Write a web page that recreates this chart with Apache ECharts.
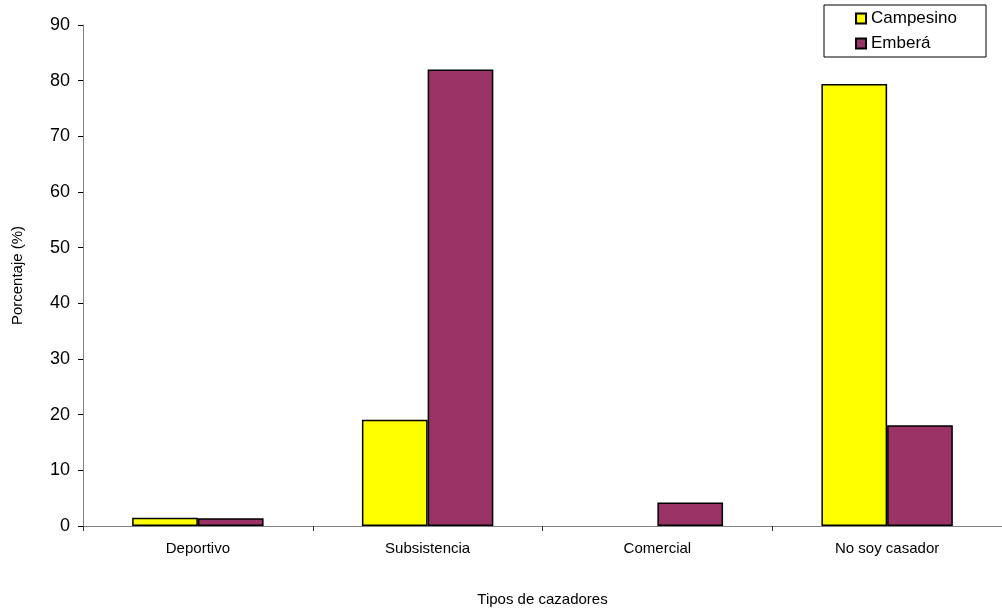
<!DOCTYPE html>
<html><head><meta charset="utf-8">
<script src="https://cdn.jsdelivr.net/npm/echarts@6/dist/echarts.min.js"></script>
<style>html,body{margin:0;padding:0;background:#fff}#c{width:1002px;height:612px}</style>
</head><body><div id="c"></div>
<script>
const categories = ['Deportivo', 'Subsistencia', 'Comercial', 'No soy casador'];
const campesino = [1.5, 19.1, 0, 79.4];
const embera = [1.4, 82.0, 4.2, 18.1];
const yTicks = [0, 10, 20, 30, 40, 50, 60, 70, 80, 90];

const chart = echarts.init(document.getElementById('c'));
const font = 'Liberation Sans, Arial, sans-serif';
const toData = arr => arr.map(v => v === 0 ? { value: v, itemStyle: { borderWidth: 0 } } : v);
chart.setOption({
  animation: false,
  textStyle: { fontFamily: font },
  grid: { left: 83, right: -4, top: 25, bottom: 86, containLabel: false },
  legend: {
    right: 16, top: 5, orient: 'vertical', itemGap: 8,
    padding: [5, 29, 5, 31],
    borderColor: '#000', borderWidth: 1,
    itemWidth: 10, itemHeight: 10, icon: 'rect',
    textStyle: { fontFamily: font, fontSize: 17, color: '#000', padding: [0,0,0,0] },
    data: ['Campesino', 'Emberá']
  },
  xAxis: {
    type: 'category', data: categories,
    name: 'Tipos de cazadores', nameLocation: 'middle', nameGap: 66,
    nameTextStyle: { fontSize: 15, color: '#000', fontFamily: font },
    axisLine: { lineStyle: { color: '#808080', width: 1 } },
    axisTick: { show: true, length: 5, lineStyle: { color: '#333' } },
    axisLabel: { fontSize: 15, color: '#000', margin: 15 }
  },
  yAxis: {
    type: 'value', min: 0, max: 90, interval: 10,
    name: 'Porcentaje (%)', nameLocation: 'middle', nameGap: 58,
    nameTextStyle: { fontSize: 15, color: '#000', fontFamily: font },
    axisLine: { show: true, lineStyle: { color: '#808080', width: 1 } },
    axisTick: { show: true, length: 5, lineStyle: { color: '#000' } },
    axisLabel: { fontSize: 18, color: '#000', margin: 13,
      formatter: v => yTicks.includes(v) ? String(v) : '' },
    splitLine: { show: false }
  },
  series: [
    { name: 'Campesino', type: 'bar', data: toData(campesino), barGap: '0%', barCategoryGap: '42.8%',
      itemStyle: { color: '#FFFF00', borderColor: '#000', borderWidth: 1.5 } },
    { name: 'Emberá', type: 'bar', data: toData(embera), barGap: '0%', barCategoryGap: '42.8%',
      itemStyle: { color: '#993366', borderColor: '#000', borderWidth: 1.5 } }
  ]
});
</script></body></html>
